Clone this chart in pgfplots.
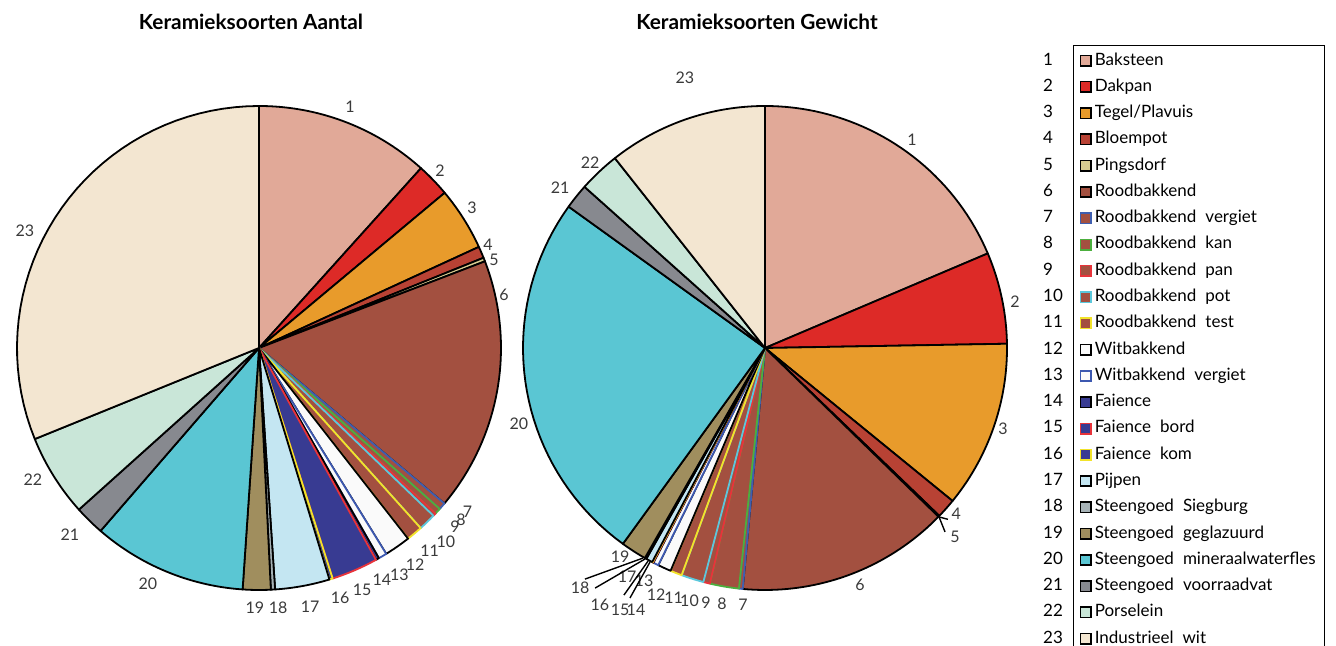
\documentclass[border=0pt]{standalone}
\usepackage{fontspec}
\setmainfont{Lato}
\usepackage{pgfplots}
\pgfplotsset{compat=1.18}

% slice fills (f) and borders (d)
\definecolor{f1}{HTML}{E1A998}\definecolor{d1}{HTML}{000000}
\definecolor{f2}{HTML}{DD2A27}\definecolor{d2}{HTML}{000000}
\definecolor{f3}{HTML}{E89B2B}\definecolor{d3}{HTML}{000000}
\definecolor{f4}{HTML}{B84234}\definecolor{d4}{HTML}{000000}
\definecolor{f5}{HTML}{D8CC90}\definecolor{d5}{HTML}{000000}
\definecolor{f6}{HTML}{A35040}\definecolor{d6}{HTML}{000000}
\definecolor{f7}{HTML}{A35040}\definecolor{d7}{HTML}{3F5FB0}
\definecolor{f8}{HTML}{A35040}\definecolor{d8}{HTML}{4CAF3E}
\definecolor{f9}{HTML}{A35040}\definecolor{d9}{HTML}{E8333A}
\definecolor{f10}{HTML}{A35040}\definecolor{d10}{HTML}{5BC8DC}
\definecolor{f11}{HTML}{A35040}\definecolor{d11}{HTML}{F2E32A}
\definecolor{f12}{HTML}{FAFAFA}\definecolor{d12}{HTML}{000000}
\definecolor{f13}{HTML}{FAFAFA}\definecolor{d13}{HTML}{3C58B0}
\definecolor{f14}{HTML}{383B92}\definecolor{d14}{HTML}{000000}
\definecolor{f15}{HTML}{383B92}\definecolor{d15}{HTML}{E8333A}
\definecolor{f16}{HTML}{383B92}\definecolor{d16}{HTML}{F2E32A}
\definecolor{f17}{HTML}{C4E6F2}\definecolor{d17}{HTML}{000000}
\definecolor{f18}{HTML}{A6B2B6}\definecolor{d18}{HTML}{000000}
\definecolor{f19}{HTML}{A08E5E}\definecolor{d19}{HTML}{000000}
\definecolor{f20}{HTML}{5AC6D3}\definecolor{d20}{HTML}{000000}
\definecolor{f21}{HTML}{87898F}\definecolor{d21}{HTML}{000000}
\definecolor{f22}{HTML}{C9E6D8}\definecolor{d22}{HTML}{000000}
\definecolor{f23}{HTML}{F3E6D1}\definecolor{d23}{HTML}{000000}
\definecolor{lbl}{HTML}{3A3A3A}

\newcommand\lfont{\fontsize{8.5}{10}\selectfont}
\newcommand\pfont{\fontsize{8}{9.5}\selectfont}
\newcommand\gap{\hspace{4.5pt}}

% percentages per category (number/percent)
\def\aantal{1/11.67, 2/2.25, 3/4.22, 4/0.78, 5/0.25, 6/16.94, 7/0.47, 8/0.42, 9/0.19, 10/1.17, 11/1.08, 12/1.75, 13/0.56, 14/0.22, 15/3.11, 16/0.22, 17/3.64, 18/0.28, 19/1.86, 20/10.28, 21/2.00, 22/5.50, 23/31.14}
\def\gewicht{1/18.61, 2/6.11, 3/11.17, 4/1.31, 5/0.08, 6/14.19, 7/0.25, 8/1.94, 9/0.44, 10/1.50, 11/0.78, 12/0.89, 13/0.36, 14/0.03, 15/0.03, 16/0.03, 17/0.44, 18/0.11, 19/1.72, 20/24.94, 21/1.67, 22/2.75, 23/10.65}

% label positions, in pie radii
\def\aantallbl{1/0.376/0.996, 2/0.748/0.731, 3/0.880/0.579, 4/0.946/0.426, 5/0.971/0.364, 6/1.012/0.219, 7/0.862/-0.676, 8/0.835/-0.708, 9/0.810/-0.738, 10/0.772/-0.800, 11/0.705/-0.838, 12/0.645/-0.897, 13/0.580/-0.938, 14/0.508/-0.959, 15/0.426/-1.000, 16/0.335/-1.033, 17/0.211/-1.070, 18/0.079/-1.074, 19/-0.017/-1.074, 20/-0.459/-0.975, 21/-0.781/-0.773, 22/-0.934/-0.545, 23/-0.967/0.483}
\def\gewichtlbl{1/0.607/0.860, 2/1.033/0.190, 3/0.983/-0.335, 4/0.790/-0.686, 5/0.785/-0.781, 6/0.393/-0.979, 7/-0.091/-1.062, 8/-0.178/-1.058, 9/-0.244/-1.054, 10/-0.312/-1.045, 11/-0.378/-1.033, 12/-0.450/-1.020, 13/-0.500/-0.962, 14/-0.533/-1.083, 15/-0.599/-1.083, 16/-0.682/-1.062, 17/-0.570/-0.946, 18/-0.764/-0.992, 19/-0.599/-0.864, 20/-1.017/-0.314, 21/-0.847/0.661, 22/-0.723/0.764, 23/-0.331/1.116}

\pgfplotsset{
  pie/.style={hide axis, clip=false, x=121pt, y=121pt,
    xmin=-1.3, xmax=1.3, ymin=-1.3, ymax=1.3, anchor=center},
  numleg/.style n args={3}{legend image code/.code={
    \draw[fill=#2, draw=#3, line width=0.8pt] (0pt,-2.6pt) rectangle (5.2pt,2.6pt);
    \node[overlay, anchor=west, inner sep=0pt, text height=6.2pt, text depth=1.8pt,
      text=black, font=\lfont] at (-19pt,0pt) {#1};}},
}

% draws the slices of one pie from a number/percent list
\newcommand\pieslices[1]{%
  \gdef\a{0}%
  \foreach \i/\v in #1 {%
    \pgfmathsetmacro\b{\a+3.6*\v}%
    \edef\cmd{\noexpand\addplot[fill=f\i, draw=d\i, line width=0.9pt, line join=round,
      domain=\a:\b, samples=40] ({sin(x)},{cos(x)}) -- (axis cs:0,0) -- cycle;}%
    \cmd
    \global\let\a\b
  }}
\newcommand\pielabels[1]{%
  \foreach \i/\px/\py in #1 {%
    \edef\cmd{\noexpand\node[text=lbl, font=\noexpand\pfont, inner sep=0pt] at (axis cs:\px,\py) {\i};}%
    \cmd
  }}

\begin{document}
\begin{tikzpicture}
\useasboundingbox (0,0) rectangle (668pt,323pt);

\begin{axis}[pie, at={(129.5pt,149pt)}]
  \pieslices{\aantal}
  \pielabels{\aantallbl}
\end{axis}

\begin{axis}[pie, at={(382.5pt,149pt)}]
  \pieslices{\gewicht}
  \pielabels{\gewichtlbl}
  \draw[line width=0.7pt] (axis cs:-0.504,-0.868) -- (axis cs:-0.744,-0.955);
  \draw[line width=0.7pt] (axis cs:-0.496,-0.872) -- (axis cs:-0.702,-0.992);
  \draw[line width=0.7pt] (axis cs:-0.483,-0.880) -- (axis cs:-0.583,-1.021);
  \draw[line width=0.7pt] (axis cs:-0.475,-0.884) -- (axis cs:-0.558,-1.033);
  \draw[line width=0.7pt] (axis cs:0.719,-0.698) -- (axis cs:0.756,-0.708);
  \draw[line width=0.7pt] (axis cs:0.719,-0.698) -- (axis cs:0.744,-0.760);
\end{axis}

\begin{axis}[at={(536.5pt,300.5pt)}, anchor=north west, hide axis,
    scale only axis, width=10pt, height=10pt, xmin=0, xmax=1, ymin=0, ymax=1,
    legend cell align=left,
    legend style={at={(0,1)}, anchor=north west, draw=black, line width=0.6pt,
      inner xsep=3.1pt, inner ysep=3.5pt, row sep=5.14pt,
      nodes={inner xsep=1.5pt, inner ysep=0pt, text height=6.2pt, text depth=1.8pt,
        font=\lfont, text=black}}]
  \addlegendimage{numleg={1}{f1}{d1}}\addlegendentry{Baksteen}
  \addlegendimage{numleg={2}{f2}{d2}}\addlegendentry{Dakpan}
  \addlegendimage{numleg={3}{f3}{d3}}\addlegendentry{Tegel/Plavuis}
  \addlegendimage{numleg={4}{f4}{d4}}\addlegendentry{Bloempot}
  \addlegendimage{numleg={5}{f5}{d5}}\addlegendentry{Pingsdorf}
  \addlegendimage{numleg={6}{f6}{d6}}\addlegendentry{Roodbakkend}
  \addlegendimage{numleg={7}{f7}{d7}}\addlegendentry{Roodbakkend\gap vergiet}
  \addlegendimage{numleg={8}{f8}{d8}}\addlegendentry{Roodbakkend\gap kan}
  \addlegendimage{numleg={9}{f9}{d9}}\addlegendentry{Roodbakkend\gap pan}
  \addlegendimage{numleg={10}{f10}{d10}}\addlegendentry{Roodbakkend\gap pot}
  \addlegendimage{numleg={11}{f11}{d11}}\addlegendentry{Roodbakkend\gap test}
  \addlegendimage{numleg={12}{f12}{d12}}\addlegendentry{Witbakkend}
  \addlegendimage{numleg={13}{f13}{d13}}\addlegendentry{Witbakkend\gap vergiet}
  \addlegendimage{numleg={14}{f14}{d14}}\addlegendentry{Faience}
  \addlegendimage{numleg={15}{f15}{d15}}\addlegendentry{Faience\gap bord}
  \addlegendimage{numleg={16}{f16}{d16}}\addlegendentry{Faience\gap kom}
  \addlegendimage{numleg={17}{f17}{d17}}\addlegendentry{Pijpen}
  \addlegendimage{numleg={18}{f18}{d18}}\addlegendentry{Steengoed\gap Siegburg}
  \addlegendimage{numleg={19}{f19}{d19}}\addlegendentry{Steengoed\gap geglazuurd}
  \addlegendimage{numleg={20}{f20}{d20}}\addlegendentry{Steengoed\gap mineraalwaterfles}
  \addlegendimage{numleg={21}{f21}{d21}}\addlegendentry{Steengoed\gap voorraadvat}
  \addlegendimage{numleg={22}{f22}{d22}}\addlegendentry{Porselein}
  \addlegendimage{numleg={23}{f23}{d23}}\addlegendentry{Industrieel\gap wit}
\end{axis}

\node[font=\bfseries\fontsize{10.4}{12}\selectfont] at (125.5pt,312pt) {Keramieksoorten Aantal};
\node[font=\bfseries\fontsize{10.4}{12}\selectfont] at (378.5pt,312pt) {Keramieksoorten Gewicht};
\end{tikzpicture}
\end{document}
